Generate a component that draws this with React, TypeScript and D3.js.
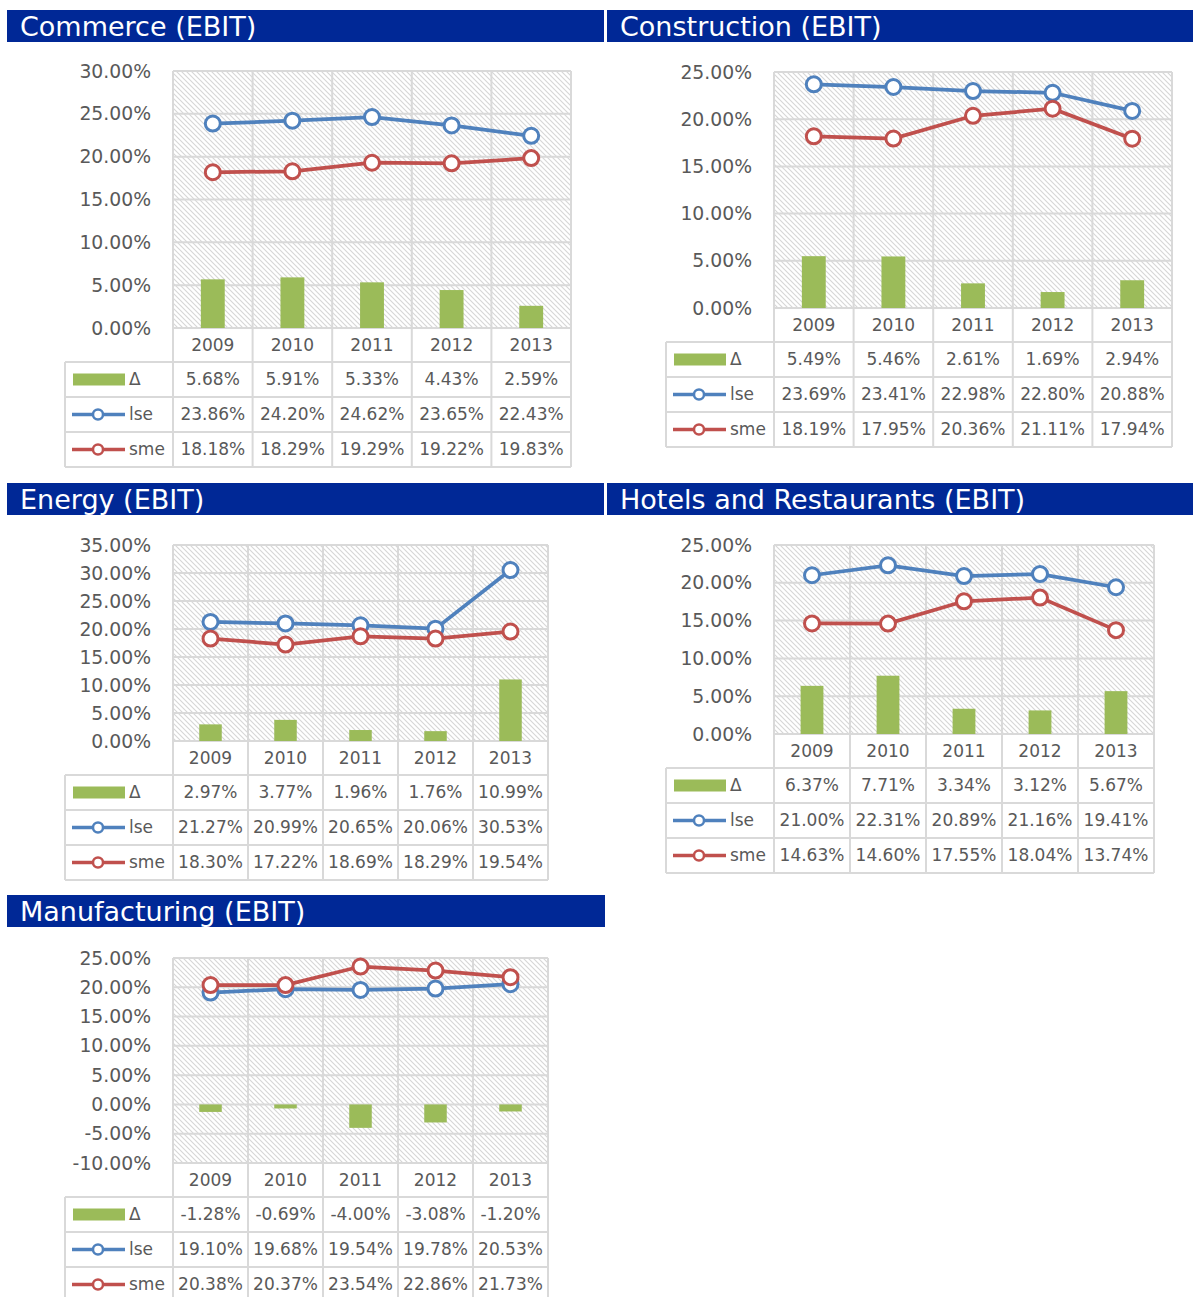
import React from "react";
import * as d3 from "d3";

const years = ["2009", "2010", "2011", "2012", "2013"];
const seriesNames = ["Δ", "lse", "sme"];

const commerceDelta = [5.68, 5.91, 5.33, 4.43, 2.59];
const commerceLse = [23.86, 24.2, 24.62, 23.65, 22.43];
const commerceSme = [18.18, 18.29, 19.29, 19.22, 19.83];

const constructionDelta = [5.49, 5.46, 2.61, 1.69, 2.94];
const constructionLse = [23.69, 23.41, 22.98, 22.8, 20.88];
const constructionSme = [18.19, 17.95, 20.36, 21.11, 17.94];

const energyDelta = [2.97, 3.77, 1.96, 1.76, 10.99];
const energyLse = [21.27, 20.99, 20.65, 20.06, 30.53];
const energySme = [18.3, 17.22, 18.69, 18.29, 19.54];

const hotelsDelta = [6.37, 7.71, 3.34, 3.12, 5.67];
const hotelsLse = [21.0, 22.31, 20.89, 21.16, 19.41];
const hotelsSme = [14.63, 14.6, 17.55, 18.04, 13.74];

const manufacturingDelta = [-1.28, -0.69, -4.0, -3.08, -1.2];
const manufacturingLse = [19.1, 19.68, 19.54, 19.78, 20.53];
const manufacturingSme = [20.38, 20.37, 23.54, 22.86, 21.73];

const BLUE = "#4f81bd";
const RED = "#c0504d";
const GREEN = "#9bbb59";
const GRID = "#d9d9d9";
const TEXT = "#595959";
const FONT = "'DejaVu Sans', Verdana, sans-serif";

// layout of each block (header bar, plot box, y range, legend column)
const panels = [
  {
    title: "Commerce (EBIT)", delta: commerceDelta, lse: commerceLse, sme: commerceSme,
    hx: 7, hy: 10, hw: 597, x0: 173, x1: 571, y0: 71, y1: 328, min: 0, max: 30, lx: 65,
  },
  {
    title: "Construction (EBIT)", delta: constructionDelta, lse: constructionLse, sme: constructionSme,
    hx: 607, hy: 10, hw: 586, x0: 774, x1: 1172, y0: 72, y1: 308, min: 0, max: 25, lx: 666,
  },
  {
    title: "Energy (EBIT)", delta: energyDelta, lse: energyLse, sme: energySme,
    hx: 7, hy: 483, hw: 597, x0: 173, x1: 548, y0: 545, y1: 741, min: 0, max: 35, lx: 65,
  },
  {
    title: "Hotels and Restaurants (EBIT)", delta: hotelsDelta, lse: hotelsLse, sme: hotelsSme,
    hx: 607, hy: 483, hw: 586, x0: 774, x1: 1154, y0: 545, y1: 734, min: 0, max: 25, lx: 666,
  },
  {
    title: "Manufacturing (EBIT)", delta: manufacturingDelta, lse: manufacturingLse, sme: manufacturingSme,
    hx: 7, hy: 895, hw: 598, x0: 173, x1: 548, y0: 958, y1: 1163, min: -10, max: 25, lx: 65,
  },
];

const pct = (v: number) => `${v.toFixed(2)}%`;

const Panel = ({ p }: { p: any }) => {
  const x = d3.scaleBand().domain(years).range([p.x0, p.x1]);
  const y = d3.scaleLinear().domain([p.min, p.max]).range([p.y1, p.y0]);
  const ticks = d3.range(p.min, p.max + 0.001, 5);
  const barW = x.bandwidth() * 0.3;
  const cx = (d: string) => (x(d) as number) + x.bandwidth() / 2;

  const line = d3
    .line<number>()
    .x((_, i) => cx(years[i]))
    .y((v) => y(v));

  // table geometry
  const yearTop = p.y1;
  const yearBot = p.y1 + 34;
  const rowH = 35;
  const rows = [p.delta, p.lse, p.sme];
  const tableBot = yearBot + rowH * 3;

  return (
    <g>
      {/* header bar */}
      <rect x={p.hx} y={p.hy} width={p.hw} height={32} fill="#002896" />
      <text x={p.hx + 13} y={p.hy + 26} fill="#fff" fontSize={27} fontFamily={FONT}>
        {p.title}
      </text>

      {/* plot background */}
      <rect x={p.x0} y={p.y0} width={p.x1 - p.x0} height={p.y1 - p.y0} fill="url(#hatch)" />

      {/* horizontal gridlines + y labels */}
      {ticks.map((t: number) => (
        <g key={t}>
          <line x1={p.x0} x2={p.x1} y1={y(t)} y2={y(t)} stroke={GRID} strokeWidth={2} />
          <text
            x={p.x0 - 22}
            y={y(t)}
            dy="0.35em"
            textAnchor="end"
            fill={TEXT}
            fontSize={18.8}
            fontFamily={FONT}
          >
            {pct(t)}
          </text>
        </g>
      ))}

      {/* vertical gridlines through plot and table */}
      {[...years.map((d) => x(d) as number), p.x1].map((vx, i) => (
        <line key={i} x1={vx} x2={vx} y1={p.y0} y2={tableBot} stroke={GRID} strokeWidth={2} />
      ))}
      {/* table horizontal lines */}
      <line x1={p.x0} x2={p.x1} y1={yearTop} y2={yearTop} stroke={GRID} strokeWidth={2} />
      {[0, 1, 2, 3].map((r) => (
        <line
          key={r}
          x1={p.lx}
          x2={p.x1}
          y1={yearBot + r * rowH}
          y2={yearBot + r * rowH}
          stroke={GRID}
          strokeWidth={2}
        />
      ))}
      <line x1={p.lx} x2={p.lx} y1={yearBot} y2={tableBot} stroke={GRID} strokeWidth={2} />

      {/* bars */}
      {p.delta.map((v: number, i: number) => (
        <rect
          key={i}
          x={cx(years[i]) - barW / 2}
          y={Math.min(y(v), y(0))}
          width={barW}
          height={Math.abs(y(v) - y(0))}
          fill={GREEN}
        />
      ))}

      {/* lines */}
      {[
        { vals: p.lse, color: BLUE },
        { vals: p.sme, color: RED },
      ].map((s, k) => (
        <g key={k}>
          <path d={line(s.vals) as string} fill="none" stroke={s.color} strokeWidth={3.75} />
          {s.vals.map((v: number, i: number) => (
            <circle
              key={i}
              cx={cx(years[i])}
              cy={y(v)}
              r={7.5}
              fill="#fff"
              stroke={s.color}
              strokeWidth={3}
            />
          ))}
        </g>
      ))}

      {/* year row */}
      {years.map((d) => (
        <text
          key={d}
          x={cx(d)}
          y={(yearTop + yearBot) / 2}
          dy="0.35em"
          textAnchor="middle"
          fill={TEXT}
          fontSize={17}
          fontFamily={FONT}
        >
          {d}
        </text>
      ))}

      {/* data rows with legend keys */}
      {rows.map((vals: number[], r: number) => {
        const ry = yearBot + r * rowH + rowH / 2;
        const color = r === 0 ? GREEN : r === 1 ? BLUE : RED;
        return (
          <g key={r}>
            {r === 0 ? (
              <rect x={p.lx + 8} y={ry - 6} width={52} height={12} fill={GREEN} />
            ) : (
              <g>
                <line x1={p.lx + 7} x2={p.lx + 60} y1={ry} y2={ry} stroke={color} strokeWidth={3.5} />
                <circle cx={p.lx + 33} cy={ry} r={5} fill="#fff" stroke={color} strokeWidth={2.5} />
              </g>
            )}
            <text
              x={p.lx + 64}
              y={ry}
              dy="0.35em"
              fill={TEXT}
              fontSize={17}
              fontFamily={FONT}
            >
              {seriesNames[r]}
            </text>
            {vals.map((v: number, i: number) => (
              <text
                key={i}
                x={cx(years[i])}
                y={ry}
                dy="0.35em"
                textAnchor="middle"
                fill={TEXT}
                fontSize={17}
                fontFamily={FONT}
              >
                {pct(v)}
              </text>
            ))}
          </g>
        );
      })}
    </g>
  );
};

export default function App() {
  return (
    <div style={{ position: "absolute", left: 0, top: 0 }}>
      <svg width={1193} height={1297} style={{ display: "block", background: "#fff" }}>
        <defs>
          <pattern id="hatch" patternUnits="userSpaceOnUse" width={5} height={5}>
            <rect width={5} height={5} fill="#fff" />
            <path d="M0,0 L5,5 M-1,4 L1,6 M4,-1 L6,1" stroke="#d6d6d6" strokeWidth={1.1} />
          </pattern>
        </defs>
        {panels.map((p) => (
          <Panel key={p.title} p={p} />
        ))}
      </svg>
    </div>
  );
}
